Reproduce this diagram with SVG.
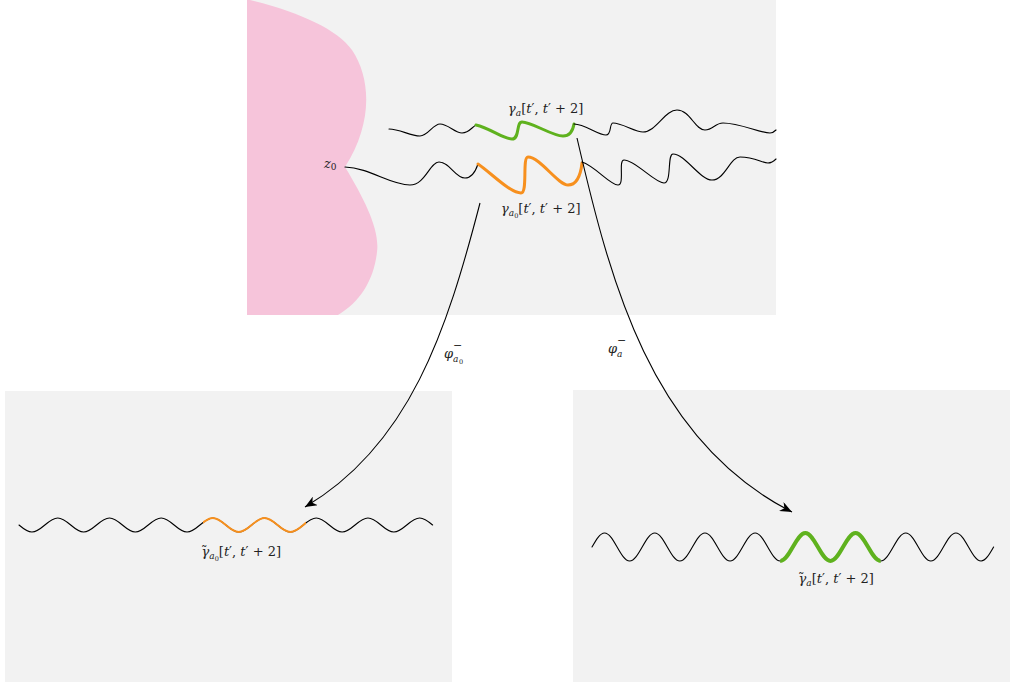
<svg xmlns="http://www.w3.org/2000/svg" width="1010" height="686" viewBox="0 0 1010 686">
<style>
.panel{fill:#f2f2f2;stroke:none}
.blk{fill:none;stroke:#000;stroke-width:1.1;stroke-linejoin:round;stroke-linecap:round}
.org{fill:none;stroke:#f7901e;stroke-linecap:round;stroke-linejoin:round}
.grn{fill:none;stroke:#5fb21e;stroke-linecap:round;stroke-linejoin:round}
.arr{fill:none;stroke:#000;stroke-width:1.1}
.t{font-family:'DejaVu Serif',serif;font-size:13px;fill:#222}
.i{font-style:italic}
.s{font-size:9px}
.m{font-size:11px}
.ss{font-size:6.5px}
</style>
<defs>
<marker id="ah" viewBox="0 0 12 10" refX="12" refY="5" markerWidth="13" markerHeight="10" markerUnits="userSpaceOnUse" orient="auto">
<path d="M0,0 L12,5 L0,10 L3.5,5 Z" fill="#000"/>
</marker>
<path id="waveL" d="M19,525 C23.21,528.59 27.25,532 31.93,532 C41.32,532 48.39,518 57.78,518 S74.24,532 83.63,532 S100.09,518 109.48,518 S125.94,532 135.33,532 S151.79,518 161.18,518 S177.64,532 187.03,532 S203.49,518 212.88,518 S229.34,532 238.73,532 S255.19,518 264.58,518 S281.04,532 290.43,532 S306.89,518 316.28,518 S332.74,532 342.13,532 S358.59,518 367.98,518 S384.44,532 393.83,532 S410.29,518 419.68,518 C424.36,518 428.39,521.41 432.6,525"/>
<path id="waveR" d="M592,547 C596.1,539.8 600,533 604.55,533 C613.67,533 620.53,561 629.65,561 S645.63,533 654.75,533 S670.73,561 679.85,561 S695.83,533 704.95,533 S720.93,561 730.05,561 S746.03,533 755.15,533 S771.13,561 780.25,561 S796.23,533 805.35,533 S821.33,561 830.45,561 S846.43,533 855.55,533 S871.53,561 880.65,561 S896.63,533 905.75,533 S921.73,561 930.85,561 S946.83,533 955.95,533 S971.93,561 981.05,561 C985.6,561 989.5,554.2 993.6,547"/>
<clipPath id="clipL"><rect x="203" y="500" width="103" height="50"/></clipPath>
<clipPath id="clipR"><rect x="780.25" y="520" width="100.4" height="50"/></clipPath>
</defs>

<g id="top-panel">
<rect class="panel" x="247" y="0" width="529" height="315"/>
<path id="domain" d="M247,0 L250,0 C300,12 338,30 352,50 C372,80 372,125 345,167 C365,200 380,230 377,252 C374,280 360,302 338,315 L247,315 Z" fill="#f6c4da"/>
<text class="t" x="324" y="168"><tspan class="i">z</tspan><tspan class="s" dy="2">0</tspan></text>
<g id="curve-a">
<path class="blk" d="M389,129 C400,129 410,136 420,136 C428,136 433,124 440,124 C448,124 455,133 462,133 C469,133 472,127 476,125"/>
<path class="grn" stroke-width="3" d="M476,125 C490,128 503,139 512,139 C520,139 516,122 522,122 C532,122 552,136 563,136 C570,136 573,130 574,124"/>
<path class="blk" d="M574,124 C585,124 598,135 606,135 C612,135 609,123 613,123 C622,123 635,132 643,132 C656,132 665,110 677,110 C690,110 695,130 705,130 C713,130 715,123 723,123 C740,123 760,133 770,133 C773,133 775,131 776,130"/>
<text class="t" x="508" y="113"><tspan class="i">γ</tspan><tspan class="i s" dy="3">a</tspan><tspan dy="-3">[</tspan><tspan class="i">t</tspan>′, <tspan class="i">t</tspan>′ + 2]</text>
</g>
<g id="curve-a0">
<path class="blk" d="M345,167 C370,168 390,185 410,185 C425,185 430,162 439,162 C450,162 455,178 465,178 C472,178 476,170 478,164"/>
<path class="org" stroke-width="3" d="M478,164 C490,172 510,193 521,193 C528,193 522,157 528,157 C540,157 558,185 568,185 C578,185 581,172 582,163"/>
<path class="blk" d="M582,162 C595,166 610,185 618,185 C625,185 618,160 624,160 C635,160 655,183 664,183 C672,183 667,154 673,154 C685,154 700,180 712,180 C725,180 730,157 740,157 C755,157 762,163 768,163 C772,163 774,161 776,159"/>
<text class="t" x="501" y="213"><tspan class="i">γ</tspan><tspan class="i s" dy="3">a</tspan><tspan class="ss" dy="2">0</tspan><tspan dy="-5">[</tspan><tspan class="i">t</tspan>′, <tspan class="i">t</tspan>′ + 2]</text>
</g>
</g>

<g id="left-panel">
<rect class="panel" x="5" y="391" width="447" height="291"/>
<use href="#waveL" class="blk"/>
<use href="#waveL" class="org" stroke-width="2" clip-path="url(#clipL)"/>
<text class="t" x="201" y="556"><tspan dy="-1">˜</tspan><tspan class="i" dx="-6" dy="1">γ</tspan><tspan class="i s" dy="3">a</tspan><tspan class="ss" dy="2">0</tspan><tspan dy="-5">[</tspan><tspan class="i">t</tspan>′, <tspan class="i">t</tspan>′ + 2]</text>
</g>

<g id="right-panel">
<rect class="panel" x="573" y="390" width="437" height="292"/>
<use href="#waveR" class="blk"/>
<use href="#waveR" class="grn" stroke-width="4" clip-path="url(#clipR)"/>
<text class="t" x="798" y="583"><tspan dy="-1">˜</tspan><tspan class="i" dx="-6" dy="1">γ</tspan><tspan class="i s" dy="3">a</tspan><tspan dy="-3">[</tspan><tspan class="i">t</tspan>′, <tspan class="i">t</tspan>′ + 2]</text>
</g>

<g id="connectors">
<path class="arr" d="M480,203 C447,330 410,445 305,507" marker-end="url(#ah)"/>
<path class="arr" d="M577,138 C610,280 650,440 792,512" marker-end="url(#ah)"/>
<text class="t i" x="444" y="358">φ</text>
<text class="t m" x="453" y="349">−</text>
<text class="t i s" x="453" y="362">a</text>
<text class="t ss" x="459" y="364">0</text>
<text class="t i" x="608" y="353">φ</text>
<text class="t m" x="617" y="344">−</text>
<text class="t i s" x="617" y="357">a</text>
</g>
</svg>
